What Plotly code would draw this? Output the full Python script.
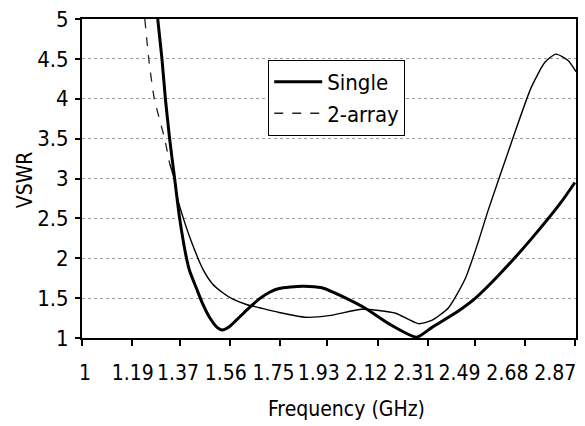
import plotly.graph_objects as go

# ---- data ----
single_freq = [1.287, 1.303, 1.316, 1.332, 1.351, 1.370, 1.396, 1.408, 1.434, 1.457,
               1.483, 1.513, 1.532, 1.558, 1.596, 1.634, 1.672, 1.709, 1.747, 1.834, 1.909,
               2.000, 2.075, 2.162, 2.268, 2.325, 2.389, 2.440, 2.491, 2.577, 2.702, 2.815, 2.868]
single_vswr = [5.0, 4.5, 4.0, 3.5, 3.0, 2.5, 2.0, 1.84, 1.62, 1.43,
               1.26, 1.13, 1.10, 1.14, 1.26, 1.38, 1.49, 1.57, 1.62, 1.65, 1.63,
               1.50, 1.37, 1.18, 1.01, 1.13, 1.26, 1.37, 1.50, 1.78, 2.24, 2.70, 2.95]

array_freq = [1.238, 1.253, 1.274, 1.313, 1.332, 1.351, 1.362, 1.389, 1.419, 1.457, 1.494,
              1.532, 1.570, 1.623, 1.672, 1.747, 1.849, 1.936, 2.060, 2.125, 2.189,
              2.275, 2.325, 2.389, 2.453, 2.502, 2.540, 2.626, 2.702, 2.755, 2.796,
              2.842, 2.872]
array_vswr = [5.0, 4.5, 4.0, 3.5, 3.19, 2.98, 2.75, 2.45, 2.17, 1.87, 1.68,
              1.57, 1.49, 1.42, 1.38, 1.32, 1.26, 1.28, 1.36, 1.345, 1.31,
              1.18, 1.22, 1.38, 1.75, 2.21, 2.61, 3.44, 4.14, 4.46, 4.56,
              4.48, 4.34]
dash_end = 5  # first points of the 2-array curve drawn dashed

x_ticklabels = ["1", "1.19", "1.37", "1.56", "1.75", "1.93", "2.12", "2.31", "2.49", "2.68", "2.87"]
y_ticks = [1, 1.5, 2, 2.5, 3, 3.5, 4, 4.5, 5]

# ---- style ----
FONT = "DejaVu Sans Condensed, Arial, sans-serif"
x_range = [1, 2.872]
label_shrink = 0.953
label_shift = 0.011
x_tickvals = [float(t) for t in x_ticklabels]
x_labelpos = [x_tickvals[0] + label_shift + (v - x_tickvals[0]) * label_shrink for v in x_tickvals]

fig = go.Figure()
fig.add_trace(go.Scatter(x=single_freq, y=single_vswr, mode="lines", name="Single",
                         line=dict(color="black", width=3, shape="spline", smoothing=0.6),
                         legendgroup="a"))
fig.add_trace(go.Scatter(x=array_freq[:dash_end], y=array_vswr[:dash_end], mode="lines",
                         name="2-array", xaxis="x2",
                         line=dict(color="#222222", width=1.3, dash="dash", shape="spline", smoothing=0.6),
                         legendgroup="b"))
fig.add_trace(go.Scatter(x=array_freq[dash_end - 1:], y=array_vswr[dash_end - 1:], mode="lines",
                         name="2-array", xaxis="x2", showlegend=False,
                         line=dict(color="black", width=1.4, shape="spline", smoothing=0.6),
                         legendgroup="b"))

fig.update_layout(
    width=585, height=426,
    margin=dict(l=82, r=7, t=13, b=88),
    paper_bgcolor="white", plot_bgcolor="white",
    font=dict(family=FONT, size=21, color="black"),
    showlegend=True,
    legend=dict(x=0.377, y=0.872, xanchor="left", yanchor="top",
                bordercolor="black", borderwidth=1, bgcolor="white",
                font=dict(size=22), traceorder="grouped", tracegroupgap=0,
                itemwidth=48),
    xaxis=dict(range=x_range, tickvals=x_tickvals, showticklabels=False,
               ticks="outside", ticklen=6, tickwidth=1.5, tickcolor="black",
               showline=True, linecolor="black", linewidth=2, mirror=True,
               showgrid=False, zeroline=False),
    xaxis2=dict(range=x_range, overlaying="x", anchor="y", side="bottom",
                tickvals=x_labelpos, ticktext=x_ticklabels, ticks="",
                ticklabelstandoff=20, showline=False, showgrid=False, zeroline=False,
                tickfont=dict(size=21)),
    yaxis=dict(range=[1, 5], tickvals=y_ticks, ticks="outside", ticklen=5, tickwidth=1.5,
               tickcolor="black", showline=True, linecolor="black", linewidth=2, mirror=True,
               showgrid=True, gridcolor="#9a9a9a", gridwidth=1, griddash="dot",
               zeroline=False, tickfont=dict(size=22), ticklabelstandoff=2),
    annotations=[
        dict(text="Frequency (GHz)", xref="paper", yref="paper", x=0.536, y=-0.2215,
             xanchor="center", yanchor="middle", showarrow=False, font=dict(size=21)),
        dict(text="VSWR", xref="paper", yref="paper", x=-0.115, y=0.495, textangle=-90,
             xanchor="center", yanchor="middle", showarrow=False, font=dict(size=21)),
    ],
)

fig.write_html("out.html")
